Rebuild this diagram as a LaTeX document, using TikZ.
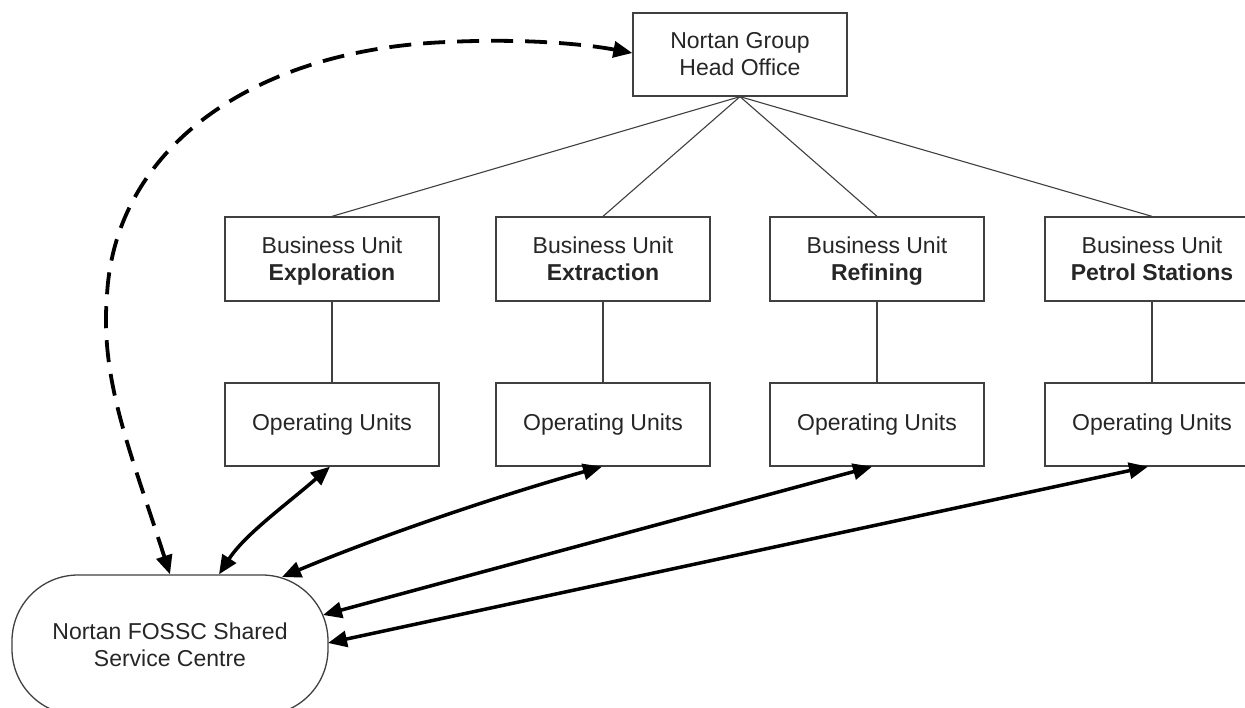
\documentclass[tikz,border=0pt]{standalone}
\usepackage{fontspec}
\setmainfont{Liberation Sans}
\usetikzlibrary{arrows.meta,calc}
\newcommand{\mystrut}{\rule[-6pt]{0pt}{27pt}}
\begin{document}
\begin{tikzpicture}[x=1pt,y=-1pt,
  box/.style={draw=black!75, line width=1.3pt, minimum width=214pt, minimum height=84pt, align=center, font=\fontsize{23}{27}\selectfont, text=black!85, inner sep=0pt},
  thinline/.style={draw=black!75, line width=1.1pt},
  link/.style={line width=3.5pt, {Triangle[length=19pt,width=16pt]}-{Triangle[length=19pt,width=16pt]}},
  dashlink/.style={link, line width=3.8pt, dash pattern=on 22pt off 12pt}
]
\useasboundingbox (0,0) rectangle (1245,707);
\fill[white] (0,0) rectangle (1245,707);

\node[box, minimum height=83pt] (ho) at (740,54.5) {\mystrut Nortan Group\\\mystrut Head Office};

\node[box] (bu1) at (332,259) {\mystrut Business Unit\\\mystrut\textbf{Exploration}};
\node[box] (bu2) at (603,259) {\mystrut Business Unit\\\mystrut\textbf{Extraction}};
\node[box] (bu3) at (877,259) {\mystrut Business Unit\\\mystrut\textbf{Refining}};
\node[box] (bu4) at (1152,259) {\mystrut Business Unit\\\mystrut\textbf{Petrol Stations}};

\node[box, minimum height=83pt] (ou1) at (332,424.5) {Operating Units};
\node[box, minimum height=83pt] (ou2) at (603,424.5) {Operating Units};
\node[box, minimum height=83pt] (ou3) at (877,424.5) {Operating Units};
\node[box, minimum height=83pt] (ou4) at (1152,424.5) {Operating Units};

\node[box, rounded corners=66pt, minimum width=316pt, minimum height=140pt] (fossc) at (170,645) {\mystrut Nortan FOSSC Shared\\\mystrut Service Centre};

\foreach \i in {1,...,4}{
  \draw[thinline] (ho.south) -- (bu\i.north);
  \draw[thinline] (bu\i.south) -- (ou\i.north);
}

\draw[link] ([xshift=-2pt]ou1.south) .. controls +(-45,39) and +(26,-40) .. ([xshift=49pt]fossc.north);
\draw[link] ([xshift=-1pt]ou2.south) .. controls +(-100,28) and +(100,-42) .. ($(fossc.center)+(112,-68)$);
\draw[link] ([xshift=-5pt]ou3.south) -- ($(fossc.center)+(153,-30)$);
\draw[link] ([xshift=-4pt]ou4.south) -- ($(fossc.center)+(158,-2)$);

\draw[dashlink] ([yshift=1.5pt]ho.west) .. controls (590,45) and (530,38) .. (447,42)
  .. controls (250,50) and (115,150) .. (107,295)
  .. controls (100,380) and (130,450) .. (fossc.north);
\end{tikzpicture}
\end{document}
